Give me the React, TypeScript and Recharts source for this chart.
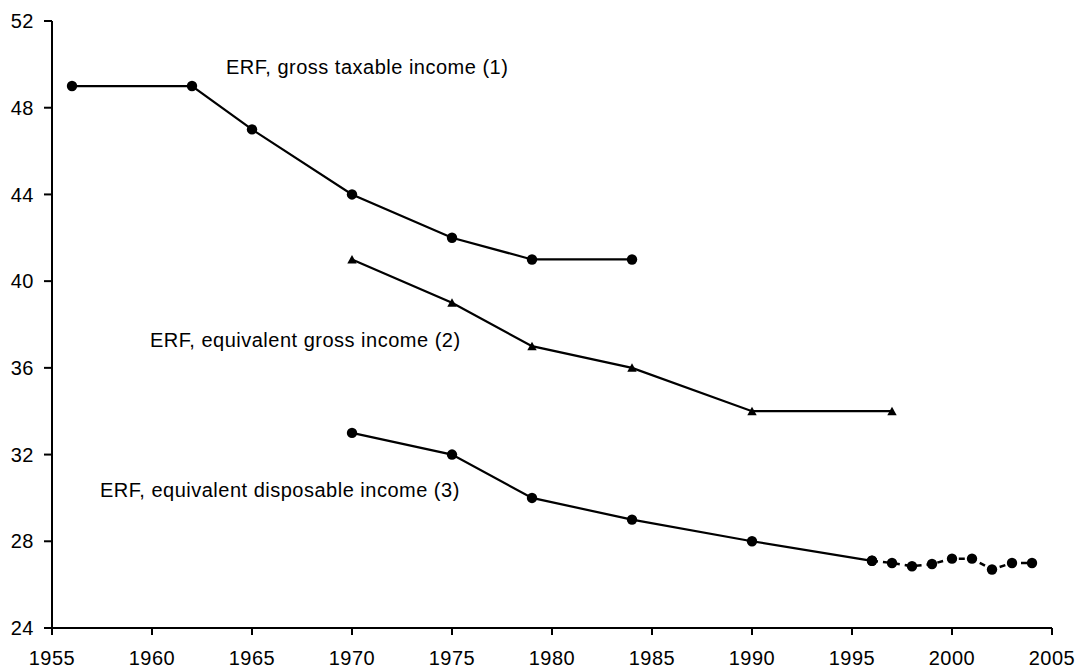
import { LineChart, Line, XAxis, YAxis, ReferenceDot } from "recharts";

const YEARS_GROSS_TAXABLE = [1956, 1962, 1965, 1970, 1975, 1979, 1984];
const VALUES_GROSS_TAXABLE = [49, 49, 47, 44, 42, 41, 41];

const YEARS_EQ_GROSS = [1970, 1975, 1979, 1984, 1990, 1997];
const VALUES_EQ_GROSS = [41, 39, 37, 36, 34, 34];

const YEARS_EQ_DISP = [1970, 1975, 1979, 1984, 1990, 1996];
const VALUES_EQ_DISP = [33, 32, 30, 29, 28, 27.1];

// yearly series, drawn dashed
const YEARS_EQ_DISP_RECENT = [1996, 1997, 1998, 1999, 2000, 2001, 2002, 2003, 2004];
const VALUES_EQ_DISP_RECENT = [27.1, 27.0, 26.85, 26.95, 27.2, 27.2, 26.7, 27.0, 27.0];

const X_TICKS = [1955, 1960, 1965, 1970, 1975, 1980, 1985, 1990, 1995, 2000, 2005];
const Y_TICKS = [24, 28, 32, 36, 40, 44, 48, 52];

const SERIES_LABELS = [
  { text: "ERF, gross taxable income (1)", year: 1963.7, value: 49.55 },
  { text: "ERF, equivalent gross income (2)", year: 1959.9, value: 36.95 },
  { text: "ERF, equivalent disposable income (3)", year: 1957.4, value: 30.04 },
];

const toRows = (years: number[], values: number[]) =>
  years.map((year, i) => ({ year, value: values[i] }));

const FONT = "'Liberation Sans', Arial, sans-serif";

const textStyle = {
  fontFamily: FONT,
  fontSize: 20,
  letterSpacing: "0.5px",
  fill: "#000",
};

const Circle = (props: any) => {
  const { cx, cy, index } = props;
  if (cx == null || cy == null) return <g key={index} />;
  return <circle key={index} cx={cx} cy={cy} r={5.2} fill="#000" />;
};

const Triangle = (props: any) => {
  const { cx, cy, index } = props;
  if (cx == null || cy == null) return <g key={index} />;
  return (
    <path
      key={index}
      d={`M${cx},${cy - 4.5} L${cx + 4.7},${cy + 4} L${cx - 4.7},${cy + 4} Z`}
      fill="#000"
    />
  );
};

const XTick = ({ x, y, payload }: any) => (
  <text x={x} y={y} dy="0.71em" textAnchor="middle" style={textStyle}>
    {payload.value}
  </text>
);

const YTick = ({ x, y, payload }: any) => (
  <text x={x} y={y} dy="0.355em" textAnchor="end" style={textStyle}>
    {payload.value}
  </text>
);

const axisStroke = { stroke: "#000", strokeWidth: 2 };

export default function App() {
  return (
    <LineChart
      width={1077}
      height={663}
      margin={{ top: 13, right: 33, left: 0, bottom: 8 }}
      style={{ background: "#fff" }}
    >
      <XAxis
        dataKey="year"
        type="number"
        domain={[1955, 2005]}
        ticks={X_TICKS}
        allowDuplicatedCategory={false}
        axisLine={axisStroke}
        tickLine={axisStroke}
        tickSize={7}
        tickMargin={16}
        height={35}
        tick={<XTick />}
        interval={0}
      />
      <YAxis
        type="number"
        domain={[24, 52]}
        ticks={Y_TICKS}
        axisLine={axisStroke}
        tickLine={axisStroke}
        tickSize={8}
        tickMargin={10}
        width={44}
        tick={<YTick />}
        interval={0}
      />
      <Line
        data={toRows(YEARS_GROSS_TAXABLE, VALUES_GROSS_TAXABLE)}
        dataKey="value"
        stroke="#000"
        strokeWidth={2.2}
        dot={Circle}
        activeDot={false}
        isAnimationActive={false}
      />
      <Line
        data={toRows(YEARS_EQ_GROSS, VALUES_EQ_GROSS)}
        dataKey="value"
        stroke="#000"
        strokeWidth={2.2}
        dot={Triangle}
        activeDot={false}
        isAnimationActive={false}
      />
      <Line
        data={toRows(YEARS_EQ_DISP, VALUES_EQ_DISP)}
        dataKey="value"
        stroke="#000"
        strokeWidth={2.2}
        dot={Circle}
        activeDot={false}
        isAnimationActive={false}
      />
      <Line
        data={toRows(YEARS_EQ_DISP_RECENT, VALUES_EQ_DISP_RECENT)}
        dataKey="value"
        stroke="#000"
        strokeWidth={2.5}
        strokeDasharray="6 5"
        dot={Circle}
        activeDot={false}
        isAnimationActive={false}
      />
      {SERIES_LABELS.map((l) => (
        <ReferenceDot
          key={l.text}
          x={l.year}
          y={l.value}
          r={0}
          shape={(p: any) => (
            <text x={p.cx} y={p.cy} textAnchor="start" style={textStyle}>
              {l.text}
            </text>
          )}
        />
      ))}
    </LineChart>
  );
}
